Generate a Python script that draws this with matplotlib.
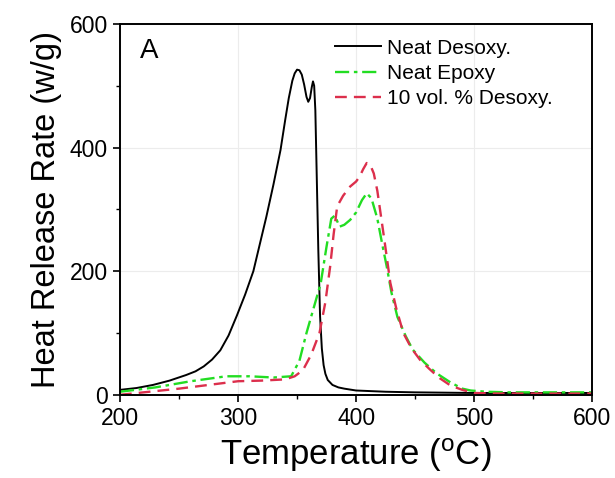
import numpy as np
import matplotlib.pyplot as plt

plt.rcParams['font.family'] = ['Liberation Sans', 'DejaVu Sans']

# Neat Desoxy.
t_desoxy = [200, 214, 228, 242, 256, 264, 271, 278, 285, 292, 299, 306, 313, 318,
            324, 330, 336, 340, 343, 346, 348, 350, 352, 354, 356, 358, 359.5,
            361, 362.5, 363.5, 364.5, 365.5, 366.5, 368, 369.5, 371, 372.5, 374,
            376, 380, 385, 390, 400, 425, 450, 500, 600]
hrr_desoxy = [8, 11, 16, 23, 32, 38, 46, 57, 72, 96, 128, 162, 200, 240,
              288, 340, 396, 445, 480, 508, 520, 526, 525, 518, 502, 482, 474,
              480, 498, 507, 500, 460, 370, 235, 127, 75, 48, 34,
              24, 16, 12, 10, 7, 5, 4, 3, 3]

# Neat Epoxy
t_epoxy = [200, 230, 260, 290, 310, 330, 345, 352, 358, 364, 370, 375, 379, 382,
           386, 390, 395, 400, 405, 409, 413, 418, 422, 426, 430, 435, 442, 448,
           458, 468, 480, 490, 497, 510, 530, 560, 600]
hrr_epoxy = [5, 12, 22, 30, 30, 28, 30, 55, 100, 140, 180, 240, 285, 290,
             272, 275, 283, 295, 315, 326, 318, 285, 245, 207, 165, 126, 95, 73,
             52, 35, 20, 10, 7, 5, 4, 4, 4]

# 10 vol. % Desoxy.
t_mix = [200, 225, 250, 275, 300, 320, 340, 348, 355, 362, 369, 374, 378, 381,
         384, 389, 395, 400, 403, 406, 409, 412, 415, 418, 421, 424, 429, 434,
         440, 447, 454, 462, 470, 480, 490, 500, 520, 560, 600]
hrr_mix = [0, 5, 10, 16, 22, 23, 25, 30, 40, 65, 100, 150, 207, 260,
           305, 322, 337, 345, 353, 365, 375, 372, 358, 330, 290, 250, 181, 140,
           100, 75, 57, 42, 28, 15, 8, 3, 2, 2, 2]

fig = plt.figure(figsize=(6.15, 4.78), dpi=100)
ax = fig.add_axes([0.195, 0.174, 0.768, 0.776])

ax.plot(t_desoxy, hrr_desoxy, color='black', lw=1.4, label='Neat Desoxy.')
ax.plot(t_epoxy, hrr_epoxy, color='#22dd22', lw=1.7, ls=(0, (6, 2, 1.5, 2)),
        label='Neat Epoxy')
ax.plot(t_mix, hrr_mix, color='#dc2f4c', lw=1.7, ls=(0, (5, 3)),
        label='10 vol. % Desoxy.')

ax.set_xlim(200, 600)
ax.set_ylim(0, 600)
ax.set_xticks([200, 300, 400, 500, 600])
ax.set_yticks([0, 200, 400, 600])
ax.set_xticks([250, 350, 450, 550], minor=True)
ax.set_yticks([100, 300, 500], minor=True)
ax.tick_params(which='major', labelsize=16.5, length=5, width=1.2, direction='out')
ax.tick_params(which='minor', length=3, width=1.0, direction='out')
for s in ax.spines.values():
    s.set_linewidth(1.4)
ax.grid(True, which='major', color='#ececec', lw=0.8)

ax.set_xlabel('Temperature ($\\mathregular{^oC}$)', fontsize=25, labelpad=5)
ax.set_ylabel('Heat Release Rate (w/g)', fontsize=23.5, labelpad=6)
ax.text(0.042, 0.962, 'A', transform=ax.transAxes, fontsize=20, va='top')

ax.legend(loc='upper left', bbox_to_anchor=(0.455, 0.96), frameon=False,
          fontsize=15, handlelength=2.2, borderaxespad=0, borderpad=0,
          labelspacing=0.3, handletextpad=0.3)

fig.savefig('out.png', dpi=100)
